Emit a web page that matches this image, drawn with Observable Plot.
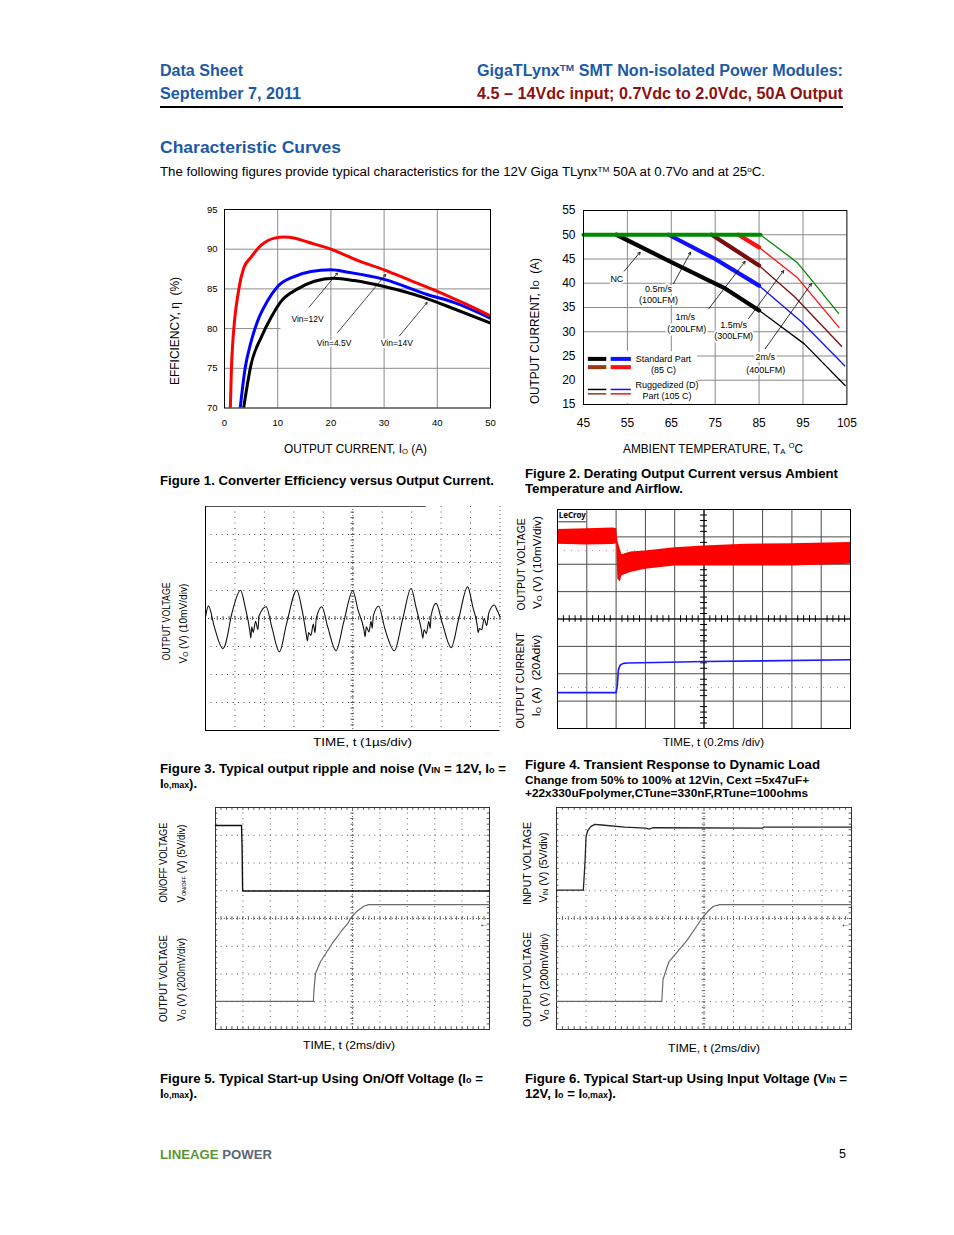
<!DOCTYPE html>
<html><head><meta charset="utf-8">
<script src="https://cdn.jsdelivr.net/npm/d3@7"></script>
<script src="https://cdn.jsdelivr.net/npm/@observablehq/plot@0.6"></script>
<style>
body{margin:0;background:#fff;font-family:"Liberation Sans",Arial,sans-serif;}
#page{position:relative;width:954px;height:1235px;overflow:hidden;background:#fff}
.t{position:absolute;white-space:nowrap;line-height:1;transform-origin:0 0}
.sup{font-size:62%;position:relative;top:-0.6em}
.sub{font-size:65%;position:relative;top:0.12em}
.sm{font-size:68%}
</style></head><body><div id="page"></div>
<script>
// ---------------- DATA ----------------
// Figure 1: efficiency vs output current
const effAmpsVin45 = [1.1, 1.4, 2.7, 3.6, 5.0, 6.9, 9.4, 11.25, 13.1, 15.6, 20, 25, 30, 35, 40, 45, 50];
const effVin45     = [70, 76.5, 85, 87.6, 89.0, 90.5, 91.4, 91.55, 91.4, 90.9, 90.0, 88.6, 87.4, 86.05, 84.7, 83.2, 81.6];
const effAmpsVin12 = [2.95, 3.9, 4.9, 6.25, 8.1, 10, 13.1, 16.25, 20, 23.1, 30, 38.1, 43.1, 50];
const effVin12     = [70, 75.1, 78.1, 81.0, 83.5, 85.3, 86.55, 87.2, 87.4, 87.1, 86.2, 84.3, 83.3, 81.3];
const effAmpsVin14 = [3.6, 5, 6.9, 8.75, 10.6, 13.75, 16.9, 20.6, 24.4, 30, 37.5, 43.1, 50];
const effVin14     = [70, 75.5, 78.9, 81.4, 83.4, 85.0, 85.97, 86.35, 86.05, 85.3, 83.9, 82.5, 80.7];
const effTicksX = [0, 10, 20, 30, 40, 50];
const effTicksY = [70, 75, 80, 85, 90, 95];
const effLabels = ["Vin=12V", "Vin=4.5V", "Vin=14V"];
const effLabelAmps = [15.6, 20.6, 32.4];
const effLabelEff = [81.2, 78.2, 78.2];
const effArrowFromAmps = [15.9, 21.25, 32.9];
const effArrowFromEff = [82.7, 79.5, 79.1];
const effArrowToAmps = [21.25, 30.3, 38.1];
const effArrowToEff = [87.0, 86.8, 83.3];

// Figure 2: derating, thick = standard part (85C), thin = ruggedized (105C)
const derNames = ["NC", "0.5m/s", "1m/s", "1.5m/s", "2m/s"];
const derColors = ["#000000", "#1010ff", "#7a0c0c", "#ff1010", "#008a00"];
const derStdTemp = [[52.5, 65, 77, 85], [64.4, 75, 85], [74.2, 85], [80.3, 85], [45, 85.3]];
const derStdAmps = [[50, 44.35, 39.05, 34.4], [50, 45.0, 39.5], [50, 43.66], [50, 47.4], [50, 50]];
const derRugTemp = [[85, 95.3, 104.6], [85, 94.7, 104.5], [85, 93.2, 103.8], [85, 93.6, 103.2], [85.3, 93.6, 95.5, 103.1]];
const derRugAmps = [[34.4, 27.5, 18.9], [39.5, 32.0, 23.0], [43.66, 37.1, 27.0], [47.4, 41.25, 30.9], [50, 44.35, 42.3, 33.8]];
const derTicksX = [45, 55, 65, 75, 85, 95, 105];
const derTicksY = [15, 20, 25, 30, 35, 40, 45, 50, 55];
const derLabels = ["NC", "0.5m/s", "(100LFM)", "1m/s", "(200LFM)", "1.5m/s", "(300LFM)", "2m/s", "(400LFM)"];
const derLabelTemp = [52.6, 62.1, 62.1, 68.2, 68.5, 79.2, 79.2, 86.4, 86.5];
const derLabelAmps = [40.8, 38.85, 36.6, 33.0, 30.6, 31.3, 29.0, 24.8, 22.1];
const derArrowFromTemp = [54.3, 65.5, 73.5, 82.6, 86.4];
const derArrowFromAmps = [42.5, 39.9, 34.7, 32.7, 26.5];
const derArrowToTemp = [57.9, 69.4, 81.8, 90.6, 96.9];
const derArrowToAmps = [46.4, 46.4, 44.5, 42.6, 39.9];
const derLegendText = ["Standard Part", "(85 C)", "Ruggedized (D)", "Part (105 C)"];

// Figure 3: ripple (time in divisions of 1us, voltage in mV, 10mV/div)
const rippleTime = [0,0.1,0.3,0.59,0.65,0.9,1.19,1.35,1.5,1.54,1.57,1.62,1.7,1.78,1.82,2.06,2.25,2.51,2.75,3.1,3.28,3.42,3.46,3.5,3.58,3.66,3.72,3.76,3.95,4.15,4.43,4.7,5.0,5.18,5.38,5.42,5.46,5.55,5.62,5.66,5.7,5.88,6.1,6.41,6.7,6.98,7.15,7.33,7.38,7.42,7.5,7.58,7.63,7.66,7.83,8.05,8.34,8.6,8.9,9.08,9.22,9.26,9.3,9.38,9.46,9.55,9.62,9.81,9.9,10];
const rippleMv   = [0.5,4.5,-3,-10.7,-10,2,10.1,4,-4,-7,-3,-5,-1,-4,1,4.2,-3,-11.9,-2,10.1,3,-5.5,-8,-5,-6,-2,-5,0,4.2,-3,-11.5,-1,9.9,3,-4,-6.5,-3,-4.8,-1,-3.5,1,4.4,-4,-11.5,0,10.7,4,-4,-7,-4,-5.4,-1,-3.5,1,5.4,-2,-10.4,0,11.3,4,-2,-5,-3.6,-4,0,-2.5,2,4.8,3,0.6];

// Figure 4: transient (time and level in screen divisions)
const trVoTime = [0, 1.0, 1.9, 2.02, 2.06, 2.14, 2.2, 2.5, 3.0, 4.0, 5.0, 6.4, 8.0, 10];
const trVoLow  = [2.73, 2.70, 2.72, 2.75, 1.45, 1.35, 1.58, 1.70, 1.82, 1.94, 1.94, 1.94, 1.94, 2.0];
const trVoHigh = [3.27, 3.30, 3.32, 3.30, 2.85, 2.55, 2.35, 2.45, 2.48, 2.60, 2.67, 2.73, 2.75, 2.79];
const trIoTime = [0, 2.0, 2.04, 2.08, 2.14, 2.25, 2.4, 3.8, 5.0, 7.0, 10];
const trIoDiv  = [-2.69, -2.69, -2.45, -1.85, -1.68, -1.62, -1.61, -1.58, -1.55, -1.53, -1.49];

// Figure 5: start-up via on/off (divisions)
const onoffTime = [0, 0.95, 0.97, 0.99, 10];
const onoffDiv  = [3.35, 3.35, 2.6, 0.99, 0.99];
const su5Time = [0, 3.57, 3.6, 3.65, 3.83, 4.26, 4.6, 4.85, 4.92, 5.15, 5.41, 5.59, 10];
const su5Div  = [-2.99, -2.99, -2.5, -1.98, -1.56, -0.9, -0.45, -0.15, 0, 0.25, 0.44, 0.5, 0.5];

// Figure 6: start-up via input voltage (divisions)
const vinTime = [0, 0.91, 0.97, 1.0, 1.06, 1.17, 1.3, 1.53, 2.31, 3.03, 3.14, 3.26, 6.98, 7.02, 10];
const vinDiv  = [1.02, 1.02, 2.1, 2.93, 3.17, 3.32, 3.39, 3.37, 3.29, 3.26, 3.22, 3.27, 3.26, 3.29, 3.29];
const su6Time = [0, 3.57, 3.61, 3.81, 4.43, 4.70, 4.93, 5.12, 5.32, 5.54, 10];
const su6Div  = [-2.99, -2.99, -2.2, -1.56, -0.78, -0.36, 0, 0.25, 0.44, 0.5, 0.5];

// ---------------- HELPERS ----------------
const page = document.getElementById('page');
const ASC = 0.846;
const BLUE = '#1d5aa6', DRED = '#8e1212';
const NARROW = '"Liberation Sans Narrow","Liberation Sans",Arial,sans-serif';
function hText(html, x, base, o = {}) {
  const size = o.size || 12;
  const el = document.createElement('div');
  el.className = 't'; el.innerHTML = html;
  el.style.fontSize = size + 'px';
  if (o.bold) el.style.fontWeight = 'bold';
  el.style.color = o.color || '#000';
  if (o.font) el.style.fontFamily = o.font;
  page.appendChild(el);
  const w = el.getBoundingClientRect().width;
  const k = o.width ? o.width / w : (o.k || 1);
  const sw = w * k;
  let left = x;
  if (o.anchor === 'end') left = x - sw; else if (o.anchor === 'middle') left = x - sw / 2;
  el.style.left = left + 'px';
  el.style.top = (base - ASC * size) + 'px';
  el.style.transform = `scaleX(${k})`;
  return k;
}
function vText(html, cx, cy, o = {}) {
  const size = o.size || 11;
  const el = document.createElement('div');
  el.className = 't'; el.innerHTML = html;
  el.style.fontSize = size + 'px';
  el.style.color = o.color || '#000';
  page.appendChild(el);
  const r = el.getBoundingClientRect();
  const k = o.len ? o.len / r.width : 1;
  el.style.left = (cx - r.width / 2) + 'px';
  el.style.top = (cy - r.height / 2) + 'px';
  el.style.transformOrigin = '50% 50%';
  el.style.transform = `rotate(-90deg) scaleX(${k})`;
}
function place(svg, left, top) {
  svg.style.position = 'absolute';
  svg.style.left = left + 'px';
  svg.style.top = top + 'px';
  svg.style.overflow = 'visible';
  page.appendChild(svg);
}
const rows = (xs, ys) => xs.map((x, i) => ({x, y: ys[i]}));

// ---------------- HEADER ----------------
hText('Data Sheet', 160, 77, {size: 16, bold: true, color: BLUE, width: 83});
hText('September 7, 2011', 160, 100, {size: 16, bold: true, color: BLUE, width: 141});
hText('GigaTLynx<span class="sup">TM</span> SMT Non-isolated Power Modules:', 843, 77, {size: 16, bold: true, color: BLUE, anchor: 'end', width: 366});
hText('4.5 – 14Vdc input; 0.7Vdc to 2.0Vdc, 50A Output', 843, 100, {size: 16, bold: true, color: DRED, anchor: 'end', width: 366});
{
  const hr = document.createElement('div');
  hr.style.cssText = 'position:absolute;left:160px;top:105.5px;width:683px;height:2px;background:#000';
  page.appendChild(hr);
}
hText('Characteristic Curves', 160, 153, {size: 17, bold: true, color: BLUE, width: 181});
hText('The following figures provide typical characteristics for the 12V Giga TLynx<span class="sup">TM</span> 50A at 0.7Vo and at 25<span class="sup">o</span>C.', 160, 177, {size: 12.5, width: 605});

// ---------------- FIGURE 1 ----------------
{
  const fL = 224, fT = 209, fW = 266, fH = 198.5;
  const mL = 35, mR = 14, mT = 10, mB = 25;
  const lab = effLabels.map((t, i) => ({t, x: effLabelAmps[i], y: effLabelEff[i]}));
  const arr = effArrowFromAmps.map((x1, i) => ({x1, y1: effArrowFromEff[i], x2: effArrowToAmps[i], y2: effArrowToEff[i]}));
  const p = Plot.plot({
    width: fW + mL + mR, height: fH + mT + mB,
    marginLeft: mL, marginRight: mR, marginTop: mT, marginBottom: mB,
    style: {fontFamily: NARROW, fontSize: '9.5px', background: 'transparent', color: '#000'},
    x: {domain: [0, 50]}, y: {domain: [70, 95]},
    marks: [
      Plot.ruleX(effTicksX.slice(1, -1), {stroke: '#8a8a8a'}),
      Plot.ruleY([75, 85, 90], {stroke: '#8a8a8a'}),
      Plot.ruleY([80], {x1: 0, x2: 10.6, stroke: '#8a8a8a'}),
      Plot.axisX(effTicksX, {tickSize: 0, tickPadding: 11, label: null}),
      Plot.axisY(effTicksY, {tickSize: 0, tickPadding: 7, label: null}),
      Plot.line(rows(effAmpsVin14, effVin14), {x: 'x', y: 'y', stroke: '#000', strokeWidth: 3, curve: 'monotone-x', clip: true}),
      Plot.line(rows(effAmpsVin12, effVin12), {x: 'x', y: 'y', stroke: '#0000ff', strokeWidth: 3, curve: 'monotone-x', clip: true}),
      Plot.line(rows(effAmpsVin45, effVin45), {x: 'x', y: 'y', stroke: '#ff0000', strokeWidth: 3, curve: 'monotone-x', clip: true}),
      Plot.text(lab, {x: 'x', y: 'y', text: 't', fontSize: 8.5, fill: '#000', stroke: '#fff', strokeWidth: 4}),
      Plot.arrow(arr, {x1: 'x1', y1: 'y1', x2: 'x2', y2: 'y2', stroke: '#000', strokeWidth: 0.7, headLength: 5}),
      Plot.frame({stroke: '#000'})
    ]
  });
  place(p, fL - mL, fT - mT);
  vText('EFFICIENCY, η &nbsp;(%)', 175, 331, {size: 12, len: 108});
  hText('OUTPUT CURRENT, I<span class="sub">O</span> (A)', 355, 453, {size: 12, anchor: 'middle', width: 143});
  hText('Figure 1. Converter Efficiency versus Output Current.', 160, 486, {size: 12.5, bold: true, width: 334});
}

// ---------------- FIGURE 2 ----------------
{
  const fL = 583.3, fT = 210, fW = 263.4, fH = 194;
  const mL = 40, mR = 16, mT = 10, mB = 30;
  const thin = [], thick = [];
  derNames.forEach((n, i) => {
    derRugTemp[i].forEach((t, j) => thin.push({n, t, a: derRugAmps[i][j]}));
    derStdTemp[i].forEach((t, j) => thick.push({n, t, a: derStdAmps[i][j]}));
  });
  const lab = derLabels.map((s, i) => ({s, x: derLabelTemp[i], y: derLabelAmps[i]}));
  const arr = derArrowFromTemp.map((x1, i) => ({x1, y1: derArrowFromAmps[i], x2: derArrowToTemp[i], y2: derArrowToAmps[i]}));
  const legendSw = [
    {y: 24.4, x1: 46.1, x2: 50.3, c: derColors[0], w: 4}, {y: 24.4, x1: 51.3, x2: 55.9, c: derColors[1], w: 4},
    {y: 22.7, x1: 46.1, x2: 50.3, c: '#9a3a10', w: 4}, {y: 22.7, x1: 51.3, x2: 55.9, c: derColors[3], w: 4},
    {y: 18.1, x1: 46.1, x2: 50.3, c: derColors[0], w: 1.5}, {y: 18.1, x1: 51.3, x2: 55.9, c: derColors[1], w: 1.5},
    {y: 17.2, x1: 46.1, x2: 50.3, c: '#9a3a10', w: 1.5}, {y: 17.2, x1: 51.3, x2: 55.9, c: derColors[3], w: 1.5}
  ];
  const legT = derLegendText.map((s, i) => ({s, x: [63.2, 63.2, 64.0, 64.0][i], y: [24.3, 22.1, 18.9, 16.65][i]}));
  const p = Plot.plot({
    width: fW + mL + mR, height: fH + mT + mB,
    marginLeft: mL, marginRight: mR, marginTop: mT, marginBottom: mB,
    style: {fontFamily: '"Liberation Sans",Arial,sans-serif', fontSize: '12px', background: 'transparent', color: '#000'},
    x: {domain: [45, 105]}, y: {domain: [15, 55]},
    color: {domain: derNames, range: derColors},
    marks: [
      Plot.ruleX(derTicksX.slice(1, -1), {stroke: '#8a8a8a'}),
      Plot.ruleY(derTicksY.slice(1, -1), {stroke: '#8a8a8a'}),
      Plot.rect([0], {x1: 45.2, x2: 71, y1: 15.2, y2: 25.9, fill: '#fff'}),
      Plot.axisX(derTicksX, {tickSize: 0, tickPadding: 14, label: null}),
      Plot.axisY(derTicksY, {tickSize: 0, tickPadding: 8, label: null}),
      Plot.line(thin, {x: 't', y: 'a', z: 'n', stroke: 'n', strokeWidth: 1.3}),
      Plot.line(thick, {x: 't', y: 'a', z: 'n', stroke: 'n', strokeWidth: 4.2}),
      Plot.ruleY(legendSw, {y: 'y', x1: 'x1', x2: 'x2', stroke: 'c', strokeWidth: 'w'}),
      Plot.text(legT, {x: 'x', y: 'y', text: 's', fontSize: 9}),
      Plot.text(lab, {x: 'x', y: 'y', text: 's', fontSize: 9, stroke: '#fff', strokeWidth: 4, fill: '#000'}),
      Plot.arrow(arr, {x1: 'x1', y1: 'y1', x2: 'x2', y2: 'y2', stroke: '#000', strokeWidth: 0.8, headLength: 5}),
      Plot.frame({stroke: '#000'})
    ]
  });
  place(p, fL - mL, fT - mT);
  vText('OUTPUT CURRENT, I<span class="sm">O</span> &nbsp;(A)', 535, 331, {size: 12, len: 146});
  hText('AMBIENT TEMPERATURE, T<span class="sub">A</span> <span class="sup">O</span>C', 713, 453, {size: 12, anchor: 'middle', width: 180});
  hText('Figure 2. Derating Output Current versus Ambient', 525, 479, {size: 12.5, bold: true, width: 313});
  hText('Temperature and Airflow.', 525, 494, {size: 12.5, bold: true, width: 158});
}

// ---------------- SCOPE HELPERS ----------------
const divX = d3.range(1, 10), divY = d3.range(-3, 4);
const minorX = d3.range(0, 10.001, 0.2).map(d => +d.toFixed(2));
const minorY = d3.range(-4, 4.001, 0.2).map(d => +d.toFixed(2));
function scope(fL, fT, fW, fH, marks) {
  const m = 4;
  const p = Plot.plot({
    width: fW + 2 * m, height: fH + 2 * m, margin: m,
    x: {domain: [0, 10], axis: null}, y: {domain: [-4, 4], axis: null},
    style: {background: 'transparent'},
    marks
  });
  place(p, fL - m, fT - m);
}
function dottedGrid(col) {
  return [
    Plot.ruleX(divX.filter(d => d !== 5), {stroke: col, strokeDasharray: '1,4.5'}),
    Plot.ruleY(divY.filter(d => d !== 0), {stroke: col, strokeDasharray: '1,4.5'}),
    Plot.ruleX([5], {stroke: col, strokeDasharray: '1,2'}),
    Plot.ruleY([0], {stroke: col, strokeDasharray: '1,2'}),
    Plot.ruleX(minorX, {y1: -0.07, y2: 0.07, stroke: col}),
    Plot.ruleY(minorY, {x1: 4.94, x2: 5.06, stroke: col})
  ];
}
function edgeTicks(col) {
  return [
    Plot.ruleX(minorX, {y1: 4, y2: 3.9, stroke: col}),
    Plot.ruleX(minorX, {y1: -4, y2: -3.9, stroke: col}),
    Plot.ruleY(minorY, {x1: 0, x2: 0.08, stroke: col}),
    Plot.ruleY(minorY, {x1: 10, x2: 9.92, stroke: col})
  ];
}

// ---------------- FIGURE 3 ----------------
{
  scope(204.5, 506, 294.5, 224, [
    ...dottedGrid('#555'),
    Plot.ruleY([4], {x1: 0, x2: 7.5, stroke: '#555', strokeWidth: 1.2}),
    Plot.ruleX([0], {stroke: '#000'}),
    Plot.ruleY([-4], {stroke: '#000'}),
    Plot.ruleX([10], {stroke: '#555', strokeDasharray: '1,3'}),
    Plot.line(rows(rippleTime, rippleMv.map(v => v / 10)), {x: 'x', y: 'y', stroke: '#111', strokeWidth: 1.1, curve: 'monotone-x'})
  ]);
  vText('OUTPUT VOLTAGE', 166, 621, {size: 11, len: 78});
  vText('V<span class="sub">O</span> (V) (10mV/div)', 183, 624, {size: 11, len: 80});
  hText('TIME, t (1µs/div)', 362, 747, {size: 11.5, anchor: 'middle', width: 99});
  hText('Figure 3. Typical output ripple and noise (V<span class="sm">IN</span> = 12V, I<span class="sm">o</span> =', 160, 774, {size: 12.5, bold: true, width: 346});
  hText('I<span class="sm">o,max</span>).', 160, 789, {size: 12.5, bold: true, width: 37});
}

// ---------------- FIGURE 4 ----------------
{
  const band = trVoTime.map((t, i) => ({t, lo: trVoLow[i], hi: trVoHigh[i]}));
  scope(557, 509, 293, 219, [
    Plot.ruleX(divX, {stroke: '#4a4a4a'}),
    Plot.ruleY(divY, {stroke: '#4a4a4a'}),
    Plot.ruleY([2.5, -2.5], {stroke: '#999', strokeDasharray: '1,6'}),
    Plot.ruleX(minorX.filter(d => Math.abs(d - Math.round(d)) > 0.01), {y1: -0.12, y2: 0.12, stroke: '#000'}),
    Plot.ruleY(minorY.filter(d => Math.abs(d - Math.round(d)) > 0.01), {x1: 4.88, x2: 5.12, stroke: '#000'}),
    Plot.ruleX([5], {stroke: '#000'}),
    Plot.ruleY([0], {stroke: '#000'}),
    Plot.areaY(band, {x: 't', y1: 'lo', y2: 'hi', fill: '#ff0000'}),
    Plot.line(rows(trIoTime, trIoDiv), {x: 'x', y: 'y', stroke: '#1a1aff', strokeWidth: 1.6}),
    Plot.text(['LeCroy'], {x: 0.04, y: 3.88, text: d => d, textAnchor: 'start', lineAnchor: 'top', fontSize: 8, fontWeight: 'bold', fill: '#000'}),
    Plot.ruleY([3.55], {x1: 0.04, x2: 1.0, stroke: '#000', strokeWidth: 0.8}),
    Plot.frame({stroke: '#000'})
  ]);
  vText('OUTPUT VOLTAGE', 521, 564, {size: 11, len: 92});
  vText('OUTPUT CURRENT', 521, 680, {size: 11, len: 96});
  vText('V<span class="sub">O</span> (V) (10mV/div)', 537, 563, {size: 11, len: 93});
  vText('I<span class="sub">O</span> (A) &nbsp;(20Adiv)', 537, 676, {size: 11, len: 82});
  hText('TIME, t (0.2ms /div)', 713, 747, {size: 11.5, anchor: 'middle', width: 101});
  hText('Figure 4. Transient Response to Dynamic Load', 525, 770, {size: 12.5, bold: true, width: 295});
  hText('Change from 50% to 100% at 12Vin, Cext =5x47uF+', 525, 784, {size: 11, bold: true, width: 284});
  hText('+22x330uFpolymer,CTune=330nF,RTune=100ohms', 525, 797.5, {size: 11, bold: true, width: 283});
}

// ---------------- FIGURE 5 ----------------
{
  scope(215, 807, 274, 222, [
    ...dottedGrid('#666'),
    ...edgeTicks('#555'),
    Plot.frame({stroke: '#333'}),
    Plot.line(rows(su5Time, su5Div), {x: 'x', y: 'y', stroke: '#6a6a6a', strokeWidth: 1.2}),
    Plot.line(rows(onoffTime, onoffDiv), {x: 'x', y: 'y', stroke: '#111', strokeWidth: 1.4}),
    Plot.text(['←'], {x: 9.8, y: -0.2, text: d => d, fontSize: 10, fontWeight: 'bold', fill: '#000'})
  ]);
  vText('ON/OFF VOLTAGE', 163, 862, {size: 11, len: 80});
  vText('V<span class="sub" style="font-size:55%">ON/OFF</span> (V) (5V/div)', 181, 863, {size: 11, len: 78});
  vText('OUTPUT VOLTAGE', 163, 978, {size: 11, len: 87});
  vText('V<span class="sub">O</span> (V) (200mV/div)', 181, 980, {size: 11, len: 83});
  hText('TIME, t (2ms/div)', 349, 1050, {size: 11.5, anchor: 'middle', width: 92});
  hText('Figure 5. Typical Start-up Using On/Off Voltage (I<span class="sm">o</span> =', 160, 1084, {size: 12.5, bold: true, width: 323});
  hText('I<span class="sm">o,max</span>).', 160, 1099, {size: 12.5, bold: true, width: 37});
}

// ---------------- FIGURE 6 ----------------
{
  scope(556, 807, 295, 222, [
    ...dottedGrid('#666'),
    ...edgeTicks('#555'),
    Plot.frame({stroke: '#333'}),
    Plot.line(rows(su6Time, su6Div), {x: 'x', y: 'y', stroke: '#6a6a6a', strokeWidth: 1.2}),
    Plot.line(rows(vinTime, vinDiv), {x: 'x', y: 'y', stroke: '#222', strokeWidth: 1.3}),
    Plot.text(['←'], {x: 9.8, y: -0.2, text: d => d, fontSize: 10, fontWeight: 'bold', fill: '#000'})
  ]);
  vText('INPUT VOLTAGE', 527, 863, {size: 11, len: 83});
  vText('V<span class="sub">IN</span> (V) (5V/div)', 544, 868, {size: 11, len: 70});
  vText('OUTPUT VOLTAGE', 527, 979, {size: 11, len: 95});
  vText('V<span class="sub">O</span> (V) (200mV/div)', 544, 978, {size: 11, len: 88});
  hText('TIME, t (2ms/div)', 714, 1053, {size: 11.5, anchor: 'middle', width: 92});
  hText('Figure 6. Typical Start-up Using Input Voltage (V<span class="sm">IN</span> =', 525, 1084, {size: 12.5, bold: true, width: 322});
  hText('12V, I<span class="sm">o</span> = I<span class="sm">o,max</span>).', 525, 1099, {size: 12.5, bold: true, width: 91});
}

// ---------------- FOOTER ----------------
hText('<span style="color:#5b9633">LINEAGE</span> <span style="color:#5b6878">POWER</span>', 160, 1159, {size: 13, bold: true, width: 112});
hText('5', 846, 1159, {size: 12.5, anchor: 'end'});
</script>
</body></html>
